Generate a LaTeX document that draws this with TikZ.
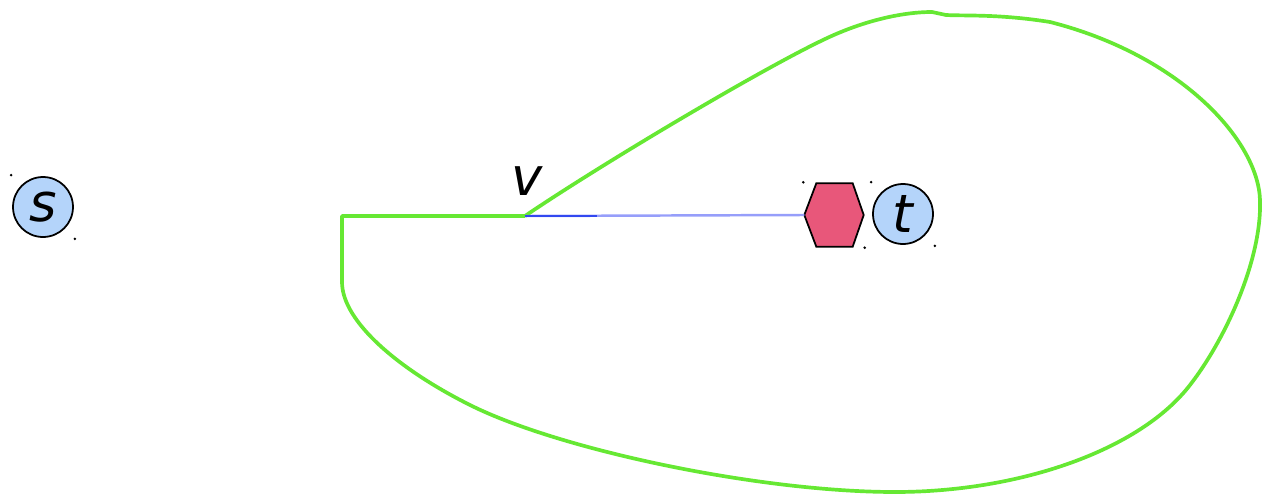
\documentclass[tikz,border=0pt]{standalone}
\usepackage{fontspec}
\setsansfont{DejaVu Sans}
\usetikzlibrary{positioning}

\begin{document}
\begin{tikzpicture}[x=0.02cm, y=-0.02cm, thick]

  % Colors
  \definecolor{nodeblue}{RGB}{180,212,250}
  \definecolor{hexred}{RGB}{232,87,122}
  \definecolor{regiongreen}{RGB}{102,232,51}
  \definecolor{edgeblue}{RGB}{50,72,240}
  \definecolor{edgelight}{RGB}{150,158,250}

  \tikzset{
    vertex/.style={circle, draw=black, line width=1pt, fill=nodeblue,
      minimum size=1.2cm, inner sep=0pt,
      font=\sffamily\itshape\fontsize{30}{36}\selectfont},
    hexbox/.style={minimum width=1.16cm, minimum height=1.24cm, inner sep=0pt},
    region/.style={draw=regiongreen, line width=2.1pt, line join=round},
    handle/.style={fill=black}
  }

  \useasboundingbox (0,0) rectangle (1262,494);

  % Nodes
  \node[vertex] (s) at (43,207) {s};
  \node[vertex] (t) at (903,214) {t};
  \node[hexbox] (hex) at (834,215) {};
  \coordinate (v) at (525,216);
  \coordinate (vm) at (597,216);
  \node[font=\sffamily\itshape\fontsize{30}{36}\selectfont, inner sep=0pt] (vl) at (527,181) {v};

  % Hexagon
  \filldraw[fill=hexred, draw=black, line width=1pt]
    (hex.west) -- ([xshift=0.24cm]hex.north west) -- ([xshift=-0.22cm]hex.north east)
    -- (hex.east) -- ([xshift=-0.22cm]hex.south east) -- ([xshift=0.24cm]hex.south west) -- cycle;

  % Region around v
  \draw[region] (v) -- (342,216) -- (342,282)
    .. controls (342,322) and (400,370) .. (470,405)
    .. controls (560,450) and (760,492) .. (895,492)
    .. controls (1020,492) and (1140,450) .. (1190,385)
    .. controls (1225,340) and (1262,260) .. (1260,200)
    .. controls (1258,140) and (1180,55) .. (1050,22)
    .. controls (1000,14) and (965,16) .. (946,15)
    -- (932,12)
    .. controls (900,12) and (860,22) .. (823,40)
    .. controls (760,70) and (600,165) .. (v);

  % Edge from v to the hexagon
  \draw[edgelight, line width=1.4pt] (v) -- (hex.west);
  \draw[edgeblue, line width=1.4pt] (v) -- (vm);

  % Selection handles
  \foreach \n in {s,hex,t} {
    \fill[handle] ([shift={(-1,-1)}]\n.west |- \n.north) circle (0.8pt);
    \fill[handle] ([shift={(1,1)}]\n.east |- \n.south) circle (0.8pt);
  }

\end{tikzpicture}
\end{document}
